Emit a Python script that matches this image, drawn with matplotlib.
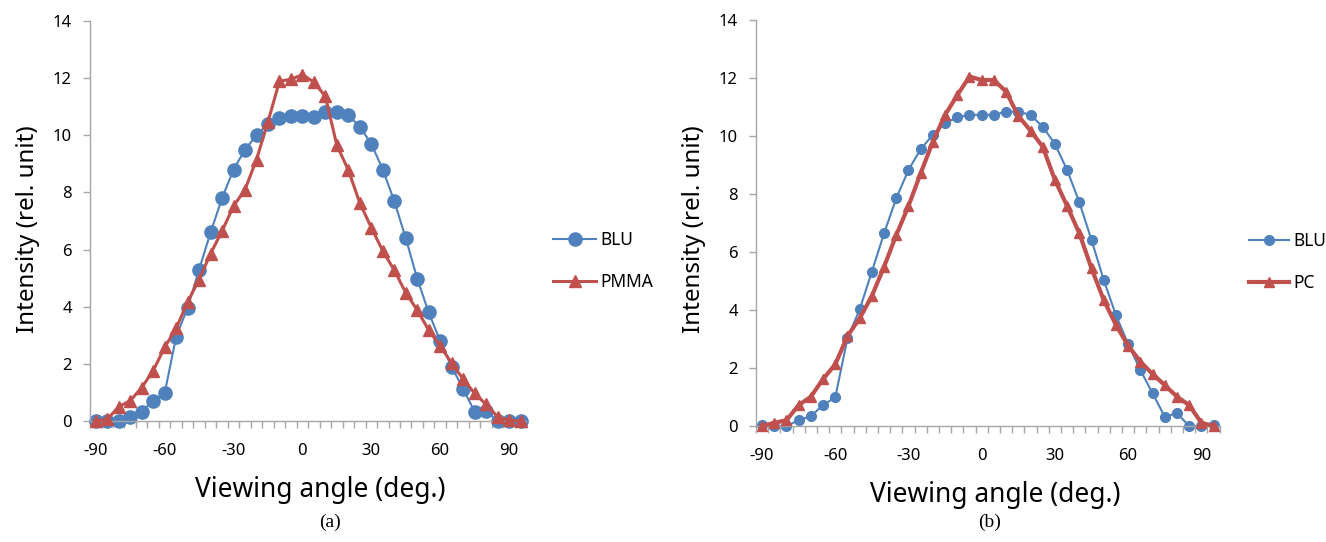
import numpy as np
import matplotlib
matplotlib.use("Agg")
import matplotlib.pyplot as plt

angles = list(range(-90, 100, 5))

blu_a = [0, 0, 0, 0.15, 0.33, 0.7, 0.97, 2.95, 3.96, 5.3, 6.6, 7.8, 8.8, 9.5, 10.0, 10.4,
         10.6, 10.67, 10.67, 10.65, 10.8, 10.8, 10.7, 10.3, 9.7, 8.8, 7.7, 6.4, 4.98, 3.8,
         2.8, 1.9, 1.12, 0.33, 0.36, 0, 0, 0]
pmma_a = [0, 0.06, 0.5, 0.71, 1.17, 1.76, 2.58, 3.24, 4.17, 4.95, 5.86, 6.65, 7.52, 8.1,
          9.15, 10.47, 11.89, 11.96, 12.12, 11.86, 11.36, 9.65, 8.78, 7.63, 6.77, 5.95,
          5.28, 4.49, 3.88, 3.18, 2.63, 2.02, 1.47, 0.97, 0.58, 0.15, 0.03, 0]

blu_b = [0.03, 0, 0, 0.2, 0.34, 0.72, 0.99, 3.02, 4.02, 5.32, 6.64, 7.85, 8.82, 9.54,
         10.03, 10.43, 10.64, 10.72, 10.72, 10.72, 10.83, 10.83, 10.72, 10.31, 9.72, 8.82,
         7.71, 6.41, 5.03, 3.82, 2.83, 1.93, 1.13, 0.32, 0.44, 0, 0, 0.03]
pc_b = [0, 0.11, 0.2, 0.72, 1.01, 1.62, 2.12, 3.1, 3.71, 4.48, 5.49, 6.58, 7.58, 8.71,
        9.8, 10.72, 11.4, 12.04, 11.92, 11.92, 11.52, 10.68, 10.18, 9.62, 8.48, 7.58,
        6.64, 5.43, 4.34, 3.48, 2.77, 2.22, 1.79, 1.41, 1.01, 0.72, 0.11, 0]

xtick_labels = [-90, -60, -30, 0, 30, 60, 90]
ytick_vals = [0, 2, 4, 6, 8, 10, 12, 14]

BLUE = "#4F81BD"
RED = "#C0504D"
GRAY = "#A6A6A6"
FONT = "Noto Sans"

fig = plt.figure(figsize=(13.26, 5.42), dpi=100)


def style_axes(ax, xlab_x, ylab_y):
    ax.set_xlim(angles[0] - 2.5, angles[-1] + 2.5)
    ax.set_ylim(0, 14)
    for s in ["top", "right"]:
        ax.spines[s].set_visible(False)
    for s in ["left", "bottom"]:
        ax.spines[s].set_color(GRAY)
        ax.spines[s].set_linewidth(1.0)
    ax.set_yticks(ytick_vals)
    ax.set_yticklabels([str(v) for v in ytick_vals], fontfamily=FONT, fontsize=12)
    ax.tick_params(axis="y", direction="out", length=5, width=1, color=GRAY, pad=8)
    ax.set_xticks(xtick_labels)
    ax.set_xticklabels([str(v) for v in xtick_labels], fontfamily=FONT, fontsize=12)
    ax.tick_params(axis="x", which="major", length=0, pad=16)
    minor = [a - 2.5 for a in angles] + [angles[-1] + 2.5]
    ax.set_xticks(minor, minor=True)
    ax.tick_params(axis="x", which="minor", direction="out", length=5, width=1, color=GRAY)
    ax.set_ylabel("Intensity (rel. unit)", fontfamily=FONT, fontsize=17.4, labelpad=9)
    ax.set_xlabel("Viewing angle (deg.)", fontfamily=FONT, fontsize=19, labelpad=12)
    ax.xaxis.label.set_x(xlab_x)
    ax.yaxis.label.set_y(ylab_y)


def add_legend(ax, x_px, y_px, hl):
    ax.legend(loc="center left", bbox_to_anchor=(x_px / 1326, 1 - y_px / 542),
              bbox_transform=fig.transFigure, frameon=False, borderpad=0,
              borderaxespad=0, prop={"family": FONT, "size": 12.5}, handlelength=hl,
              labelspacing=1.35, handletextpad=0.25)


# Panel (a)
ax1 = fig.add_axes([0.0679, 0.2232, 0.329, 0.7381])
ax1.plot(angles, blu_a, color=BLUE, lw=1.5, marker="o", ms=9.5, mec=BLUE, mfc=BLUE, label="BLU",
         zorder=2, clip_on=False)
ax1.plot(angles, pmma_a, color=RED, lw=2.2, marker="^", ms=8, mec=RED, mfc=RED, label="PMMA",
         zorder=3, clip_on=False)
style_axes(ax1, 0.5275, 0.48)
add_legend(ax1, 553, 261, 2.5)

# Panel (b)
ax2 = fig.add_axes([0.5701, 0.214, 0.3497, 0.7497])
ax2.plot(angles, blu_b, color=BLUE, lw=1.5, marker="o", ms=7, mec=BLUE, mfc=BLUE, label="BLU",
         zorder=2, clip_on=False)
ax2.plot(angles, pc_b, color=RED, lw=3, marker="^", ms=7.5, mec=RED, mfc=RED, label="PC",
         zorder=3, clip_on=False)
style_axes(ax2, 0.515, 0.485)
add_legend(ax2, 1249, 262, 2.3)

fig.text(330 / 1326, 1 - 522 / 542, "(a)", ha="center", va="center",
         fontfamily="Liberation Serif", fontsize=14)
fig.text(990 / 1326, 1 - 522 / 542, "(b)", ha="center", va="center",
         fontfamily="Liberation Serif", fontsize=14)

fig.savefig("out.png", dpi=100)
